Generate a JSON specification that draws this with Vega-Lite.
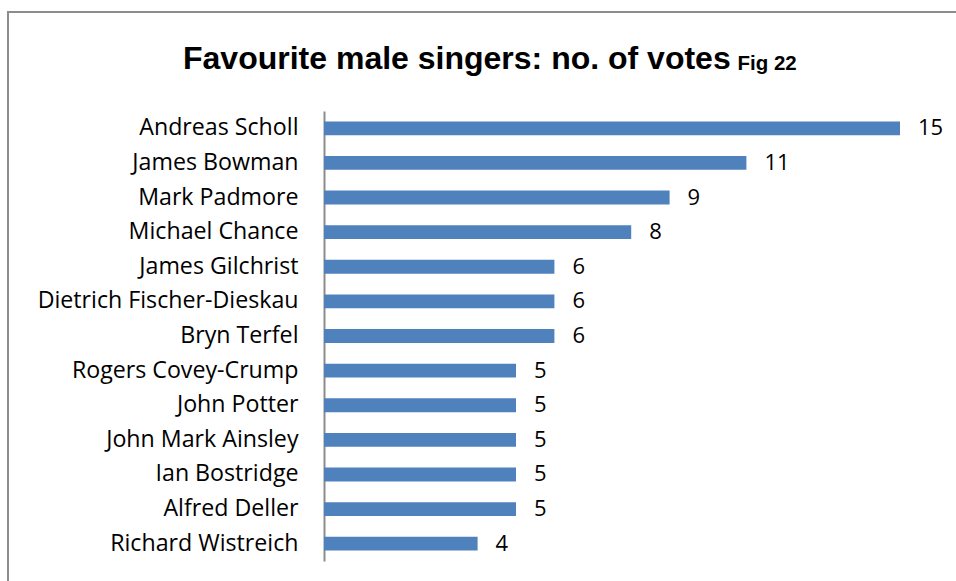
{
  "$schema": "https://vega.github.io/schema/vega-lite/v6.json",
  "autosize": {"type": "none"},
  "padding": {"left": 8, "top": 12, "right": 0, "bottom": 0},
  "width": 952,
  "height": 572,
  "background": "white",
  "config": {
    "view": {"stroke": "#8c8c8c", "strokeWidth": 2},
    "font": "Open Sans"
  },
  "title": {
    "text": "Favourite male singers: no. of votes",
    "font": "Liberation Sans",
    "fontWeight": "bold",
    "fontSize": 32,
    "color": "black",
    "anchor": "start",
    "baseline": "alphabetic",
    "frame": "group",
    "dx": 175,
    "offset": -89
  },
  "data": {
    "values": [
      {"singer": "Andreas Scholl", "votes": 15},
      {"singer": "James Bowman", "votes": 11},
      {"singer": "Mark Padmore", "votes": 9},
      {"singer": "Michael Chance", "votes": 8},
      {"singer": "James Gilchrist", "votes": 6},
      {"singer": "Dietrich Fischer-Dieskau", "votes": 6},
      {"singer": "Bryn Terfel", "votes": 6},
      {"singer": "Rogers Covey-Crump", "votes": 5},
      {"singer": "John Potter", "votes": 5},
      {"singer": "John Mark Ainsley", "votes": 5},
      {"singer": "Ian Bostridge", "votes": 5},
      {"singer": "Alfred Deller", "votes": 5},
      {"singer": "Richard Wistreich", "votes": 4}
    ]
  },
  "encoding": {
    "y": {
      "field": "singer",
      "type": "nominal",
      "sort": null,
      "scale": {"range": [99, 549], "paddingInner": 0.6, "paddingOuter": 0.3},
      "axis": {
        "orient": "left",
        "offset": -316,
        "title": null,
        "ticks": false,
        "domainColor": "#8c8c8c",
        "domainWidth": 2,
        "labelFont": "Open Sans",
        "labelFontSize": 23.2,
        "labelColor": "black",
        "labelPadding": 26,
        "labelLimit": 400
      }
    },
    "x": {
      "field": "votes",
      "type": "quantitative",
      "scale": {"domain": [-8.229, 16.5625], "nice": false, "zero": false},
      "axis": {
        "orient": "top",
        "labels": false,
        "ticks": false,
        "domain": false,
        "grid": false,
        "title": "Fig 22",
        "titleFont": "Liberation Sans",
        "titleFontWeight": "bold",
        "titleFontSize": 20.5,
        "titleColor": "black",
        "titleAlign": "left",
        "titleAnchor": null,
        "titleBaseline": "alphabetic",
        "titleX": 729,
        "titleY": 57
      }
    }
  },
  "layer": [
    {
      "mark": {"type": "bar", "color": "#4f81bd"},
      "encoding": {"x2": {"datum": 0}}
    },
    {
      "mark": {"type": "text", "align": "left", "baseline": "middle", "dx": 18, "fontSize": 22, "color": "black", "font": "Open Sans"},
      "encoding": {"text": {"field": "votes", "type": "quantitative"}}
    }
  ]
}
